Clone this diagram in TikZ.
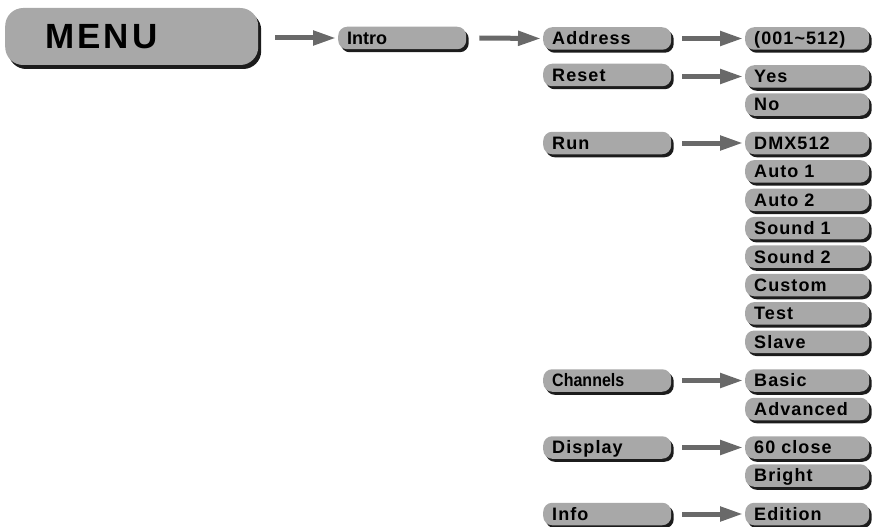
\documentclass[tikz,border=0pt]{standalone}
\usepackage{graphicx}
\usepackage{fontspec}
\newfontfamily\labfont[LetterSpace=6]{Liberation Sans}
\newfontfamily\menufont[LetterSpace=9]{Liberation Sans}
\newfontfamily\labplain{Liberation Sans}
\usetikzlibrary{shadows,arrows.meta,calc}
\definecolor{boxgray}{RGB}{168,168,168}
\definecolor{shadowc}{RGB}{28,28,28}
\definecolor{arrgray}{RGB}{105,105,105}
\tikzset{
  item/.style={rounded corners=9pt, fill=boxgray,
    drop shadow={shadow xshift=2.5pt, shadow yshift=-3pt, fill=shadowc, opacity=1},
    anchor=west, minimum height=22.5pt, inner xsep=9pt, inner ysep=0pt,
    text height=12.9pt, text depth=0pt, align=left,
    font=\labfont\bfseries\fontsize{18}{20}\selectfont},
  leftitem/.style={item, text width=110pt},
  rightitem/.style={item, text width=106pt},
  plainfont/.style={font=\labplain\bfseries\fontsize{18}{20}\selectfont},
  menubox/.style={rounded corners=18pt, fill=boxgray,
    drop shadow={shadow xshift=3pt, shadow yshift=-4pt, fill=shadowc, opacity=1},
    anchor=west, minimum height=57pt, inner xsep=40pt, inner ysep=0pt,
    text width=173pt, text height=25pt, text depth=0pt, align=left,
    font=\menufont\bfseries\fontsize{35}{40}\selectfont},
  arr/.style={draw=arrgray, line width=5pt, -{Triangle[length=23pt,width=14pt]}}
}
\begin{document}
\begin{tikzpicture}[x=1pt,y=-1pt]
\useasboundingbox (0,0) rectangle (873,527);
% root
\node[menubox] (menu) at (5,36.5) {MENU};
\node[leftitem, plainfont] (intro) at (338,38) {Intro};
% left column
\node[leftitem] (addr) at (543,38.5) {Address};
\node[leftitem] (reset) at (543,75) {Reset};
\node[leftitem] (run) at (543,143) {Run};
\node[leftitem, plainfont] (chan) at (543,380.5) {\scalebox{0.89}[1]{Channels}};
\node[leftitem] (disp) at (543,447.5) {Display};
\node[leftitem] (info) at (543,514) {Info};
% right column
\node[rightitem] (v001) at (745,38.5) {(001\char`\~512)};
\node[rightitem] (yes) at (745,76.5) {Yes};
\node[rightitem] (no) at (745,104.5) {No};
\node[rightitem] (dmx) at (745,143) {DMX512};
\node[rightitem] (auto1) at (745,171.4) {Auto 1};
\node[rightitem] (auto2) at (745,199.8) {Auto 2};
\node[rightitem] (sound1) at (745,228.2) {Sound 1};
\node[rightitem] (sound2) at (745,256.6) {Sound 2};
\node[rightitem] (custom) at (745,285) {Custom};
\node[rightitem] (test) at (745,313.4) {Test};
\node[rightitem] (slave) at (745,341.8) {Slave};
\node[rightitem] (basic) at (745,380.5) {Basic};
\node[rightitem] (adv) at (745,409) {Advanced};
\node[rightitem] (close) at (745,447.5) {60 close};
\node[rightitem] (bright) at (745,475.5) {Bright};
\node[rightitem] (edition) at (745,514) {Edition};
% arrows
\draw[arr] ($(menu.east |- intro.west)+(17,0)$) -- ($(intro.west)+(-2,0)$);
\draw[arr] ($(intro.east)+(13,0)$) -- ($(addr.west)+(-2,0)$);
\draw[arr] ($(addr.east)+(11,0)$) -- ($(v001.west)+(-2,0)$);
\draw[arr] ($(reset.east |- yes.west)+(11,0)$) -- ($(yes.west)+(-2,0)$);
\draw[arr] ($(run.east)+(11,0)$) -- ($(dmx.west)+(-2,0)$);
\draw[arr] ($(chan.east)+(11,0)$) -- ($(basic.west)+(-2,0)$);
\draw[arr] ($(disp.east)+(11,0)$) -- ($(close.west)+(-2,0)$);
\draw[arr] ($(info.east)+(11,0)$) -- ($(edition.west)+(-2,0)$);
\end{tikzpicture}
\end{document}
